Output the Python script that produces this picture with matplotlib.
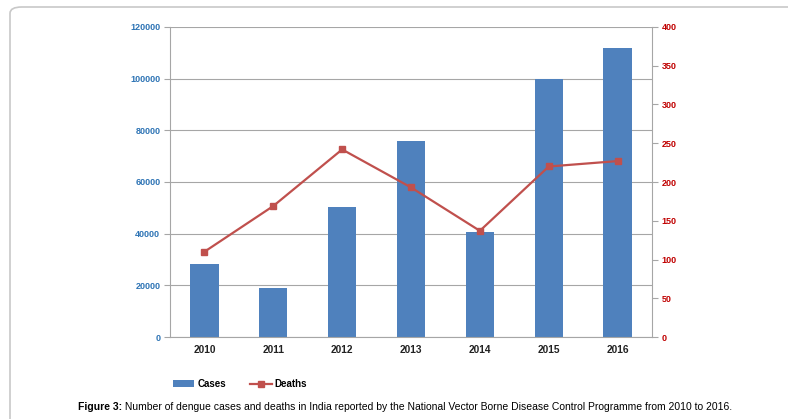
import matplotlib
matplotlib.use("Agg")
import matplotlib.pyplot as plt
from matplotlib.patches import FancyBboxPatch, Patch
from matplotlib.lines import Line2D
import numpy as np

# Data
years = ['2010', '2011', '2012', '2013', '2014', '2015', '2016']
cases = [28292, 18860, 50222, 75808, 40571, 99913, 111880]
deaths = [110, 169, 242, 193, 137, 220, 227]

bar_color = '#4F81BD'
line_color = '#C0504D'
grid_color = '#A6A6A6'

plt.rcParams['font.family'] = ['Liberation Sans', 'DejaVu Sans']

fig = plt.figure(figsize=(7.88, 4.19), dpi=100)
fig.patch.set_facecolor('white')

# rounded frame around the chart
frame = FancyBboxPatch((10 / 788, -0.2), 1.2, (419 - 7) / 419 + 0.2,
                       boxstyle='round,pad=0,rounding_size=0.015',
                       transform=fig.transFigure, fill=False,
                       edgecolor='#C8C8C8', linewidth=1.2)
fig.patches.append(frame)

ax = fig.add_axes([170 / 788, (419 - 337) / 419, (652 - 170) / 788, (337 - 27) / 419])
x = np.arange(len(years))

ax.bar(x, cases, width=0.41, color=bar_color, zorder=2)
ax.set_ylim(0, 120000)
ax.set_xlim(-0.5, len(years) - 0.5)
ax.set_yticks(np.arange(0, 120001, 20000))
ax.yaxis.grid(True, color=grid_color, linewidth=0.8)
ax.set_axisbelow(True)
ax.set_xticks(x)
ax.set_xticklabels(years, fontsize=7.3, fontweight='bold', color='#222222')
ax.tick_params(axis='x', length=0, pad=6)
ax.tick_params(axis='y', length=4, color=grid_color, labelsize=6.5,
               labelcolor='#2E74B5', pad=3)
for lbl in ax.get_yticklabels():
    lbl.set_fontweight('bold')
for s in ['top', 'right']:
    ax.spines[s].set_visible(False)
for s in ['left', 'bottom']:
    ax.spines[s].set_color(grid_color)
    ax.spines[s].set_linewidth(0.8)

ax2 = ax.twinx()
ax2.plot(x, deaths, color=line_color, linewidth=1.6, marker='s',
         markersize=5, zorder=3)
ax2.set_ylim(0, 400)
ax2.set_yticks(np.arange(0, 401, 50))
ax2.tick_params(axis='y', length=4, color=grid_color, labelsize=6.5,
                labelcolor='#C00000', pad=3)
for lbl in ax2.get_yticklabels():
    lbl.set_fontweight('bold')
for s in ['top', 'left', 'bottom']:
    ax2.spines[s].set_visible(False)
ax2.spines['right'].set_color(grid_color)
ax2.spines['right'].set_linewidth(0.8)

# legend
handles = [Patch(facecolor=bar_color, edgecolor='none'),
           Line2D([0], [0], color=line_color, linewidth=1.6, marker='s', markersize=5)]
fig.legend(handles, ['Cases', 'Deaths'], loc='center', bbox_to_anchor=(240 / 788, 1 - 384 / 419),
           ncol=2, frameon=False, handlelength=2.2, handletextpad=0.3, columnspacing=2.5,
           prop={'size': 7, 'weight': 'bold'})

# caption: bold "Figure 3:" followed by normal text
caption_rest = (' Number of dengue cases and deaths in India reported by the National '
                'Vector Borne Disease Control Programme from 2010 to 2016.')
t1 = fig.text(0, 1 - 407 / 419, 'Figure 3:', fontsize=7.5, fontweight='bold', va='center')
t2 = fig.text(0, 1 - 407 / 419, caption_rest, fontsize=7.5, va='center')
fig.canvas.draw()
r = fig.canvas.get_renderer()
w1 = t1.get_window_extent(r).width
w2 = t2.get_window_extent(r).width
start = 405 - (w1 + w2) / 2
t1.set_x(start / 788)
t2.set_x((start + w1) / 788)

fig.savefig('out.png', dpi=100)
